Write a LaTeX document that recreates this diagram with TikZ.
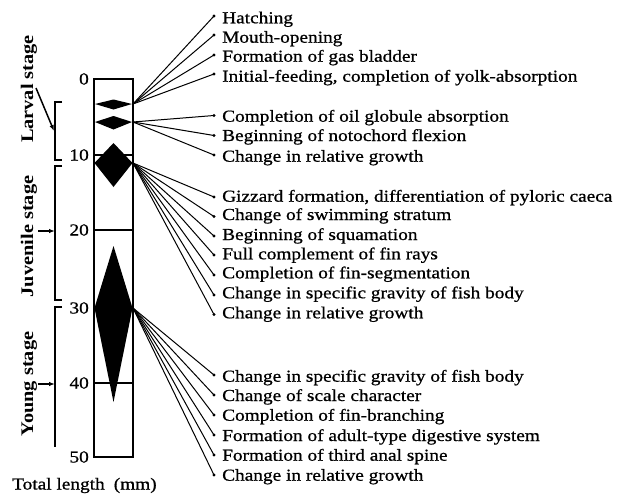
\documentclass[tikz,border=0pt]{standalone}
\usepackage{fontspec}
\setmainfont{Liberation Serif}[FakeStretch=1.15, FakeBold=0.8]
\newfontfamily\stagefont{Liberation Serif Bold}[FakeStretch=1.15]
\usetikzlibrary{arrows.meta}
\begin{document}
\begin{tikzpicture}[x=1pt,y=-1pt,
  lbl/.style={anchor=base west, inner sep=0pt, font=\fontsize{16.8}{18}\selectfont},
  num/.style={anchor=base east, inner sep=0pt, font=\fontsize{16.8}{18}\selectfont},
  stage/.style={rotate=90, anchor=base, inner sep=0pt, font=\stagefont\fontsize{17.7}{19}\selectfont},
  dotn/.style={circle, fill=black, inner sep=0pt, minimum size=3.4pt},
  conn/.style={line width=1pt},
  boxline/.style={line width=1.8pt},
  brk/.style={line width=1.4pt},
  stagearrow/.style={line width=1.5pt, -{Latex[length=6pt,width=4.5pt]}},
  blackdiamond/.style={fill=black, draw=none}]
\useasboundingbox (0,0) rectangle (618,493);

% column
\draw[boxline] (94,79) rectangle (133,457);
\foreach \yy in {155,230,308,383} \draw[boxline] (94,\yy) -- (133,\yy);
% scale numbers
\foreach \n/\b in {0/84.5,10/160.5,20/235.5,30/313.5,40/388.5,50/462.5}
  \node[num] (n\n) at (89,\b) {\n};
\node[lbl, anchor=base west] (tl) at (12,489.5) {Total length\hspace{9pt}(mm)};

% diamonds
\fill[blackdiamond] (95,104) -- (113.5,99.5) -- (132,104) -- (113.5,109.5) -- cycle;
\fill[blackdiamond] (95,122) -- (113.5,116) -- (132,122) -- (113.5,129.5) -- cycle;
\fill[blackdiamond] (94.5,163) -- (113.5,143) -- (132.5,163) -- (113.5,187) -- cycle;
\fill[blackdiamond] (94.5,308) -- (113.5,246) -- (132.5,308) -- (113.5,402) -- cycle;

% fan points
\coordinate (f1) at (133,104);
\coordinate (f2) at (133,122);
\coordinate (f3) at (133,163);
\coordinate (f4) at (133,308);

\foreach \dy/\by/\f/\t [count=\i] in {
  16/23.3/f1/{Hatching},
  35/42.7/f1/{Mouth-opening},
  55/61.7/f1/{Formation of gas bladder},
  74/81.7/f1/{Initial-feeding, completion of yolk-absorption},
  115.5/121.7/f2/{Completion of oil globule absorption},
  135.5/141/f2/{Beginning of notochord flexion},
  155/161.7/f2/{Change in relative growth},
  197/201.7/f3/{Gizzard formation, differentiation of pyloric caeca},
  216.5/220/f3/{Change of swimming stratum},
  236/240/f3/{Beginning of squamation},
  255/259.3/f3/{Full complement of fin rays},
  275/278.3/f3/{Completion of fin-segmentation},
  295/298.3/f3/{Change in specific gravity of fish body},
  314.5/318.3/f3/{Change in relative growth},
  375/381.7/f4/{Change in specific gravity of fish body},
  395/401/f4/{Change of scale character},
  415/420.7/f4/{Completion of fin-branching},
  435/441/f4/{Formation of adult-type digestive system},
  455/460.7/f4/{Formation of third anal spine},
  475/480.7/f4/{Change in relative growth}} {
  \node[dotn] (d\i) at (214,\dy) {};
  \node[lbl] (l\i) at (222,\by) {\t};
  \draw[conn] (\f) -- (d\i.center);
}

% stages
\node[stage] (larval) at (33,89) {Larval stage};
\node[stage] (juvenile) at (33,236.5) {Juvenile stage};
\node[stage] (young) at (33,384) {Young stage};

% brackets
\draw[brk] (62,102) -- (55,102) -- (55,160) -- (62,160);
\draw[brk] (62,166) -- (55,166) -- (55,300) -- (62,300);
\draw[brk] (62,307) -- (55,307) -- (55,447);

% stage arrows
\coordinate (a1s) at (36,88);
\coordinate (a1e) at (54,131);
\coordinate (a2s) at (38,231);
\coordinate (a2e) at (55,231);
\coordinate (a3s) at (38,384);
\coordinate (a3e) at (55,384);
\draw[stagearrow] (a1s) -- (a1e);
\draw[stagearrow] (a2s) -- (a2e);
\draw[stagearrow] (a3s) -- (a3e);
\end{tikzpicture}
\end{document}
